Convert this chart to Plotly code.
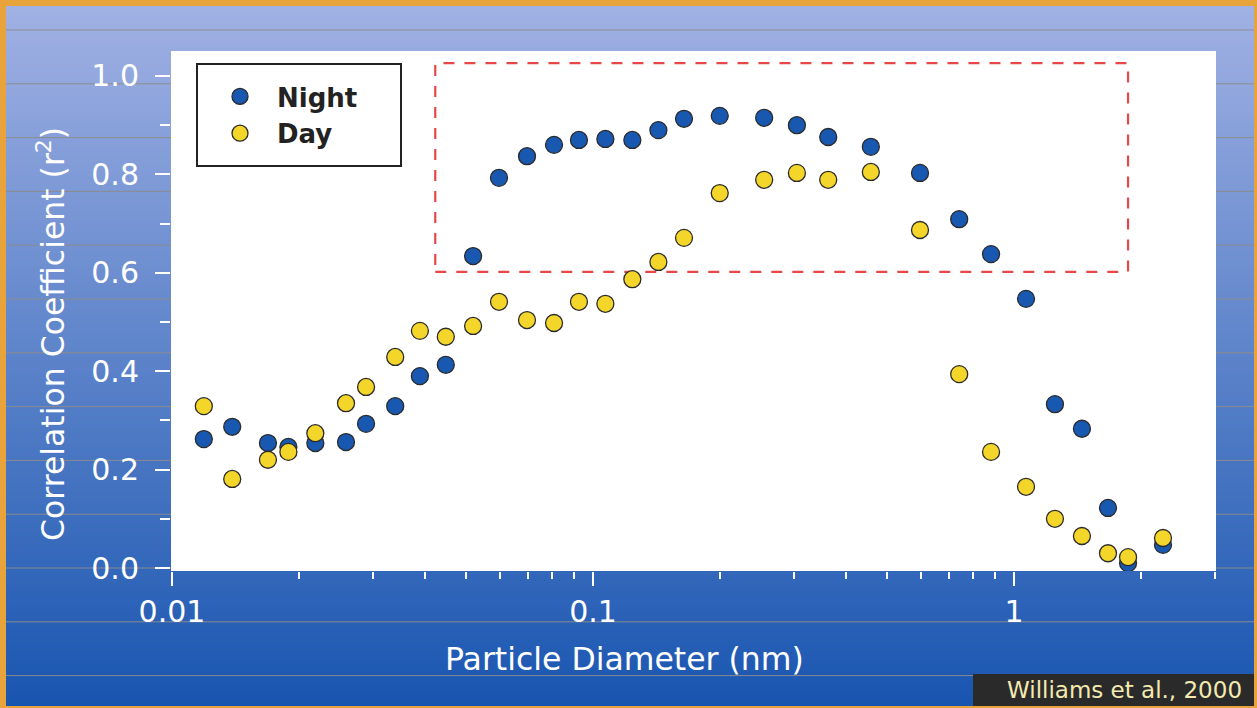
import plotly.graph_objects as go

# ---------------- data ----------------
diameter_nm = [0.0119, 0.0139, 0.0169, 0.0189, 0.0219, 0.0259, 0.0289, 0.0339, 0.0388, 0.0447,
               0.0519, 0.0598, 0.0697, 0.0808, 0.0926, 0.107, 0.124, 0.143, 0.1645, 0.200,
               0.255, 0.305, 0.362, 0.457, 0.598, 0.741, 0.882, 1.068, 1.251, 1.450,
               1.672, 1.866, 2.259]
night_r2 = [0.262, 0.287, 0.254, 0.246, 0.254, 0.256, 0.293, 0.329, 0.390, 0.413,
            0.634, 0.793, 0.837, 0.860, 0.870, 0.872, 0.870, 0.890, 0.913, 0.919,
            0.915, 0.900, 0.876, 0.856, 0.803, 0.709, 0.638, 0.547, 0.333, 0.283,
            0.122, 0.010, 0.047]
day_r2 = [0.329, 0.181, 0.220, 0.236, 0.274, 0.335, 0.368, 0.429, 0.482, 0.470,
          0.492, 0.541, 0.504, 0.498, 0.541, 0.537, 0.587, 0.622, 0.671, 0.762,
          0.789, 0.803, 0.789, 0.805, 0.687, 0.394, 0.236, 0.165, 0.100, 0.065,
          0.030, 0.022, 0.061]
series_names = ["Night", "Day"]
x_tick_vals = [0.01, 0.1, 1]
x_tick_text = ["0.01", "0.1", "1"]
x_minor_vals = [0.02, 0.03, 0.04, 0.05, 0.06, 0.07, 0.08, 0.09,
                0.2, 0.3, 0.4, 0.5, 0.6, 0.7, 0.8, 0.9, 2, 3]
y_tick_vals = [0.0, 0.2, 0.4, 0.6, 0.8, 1.0]
x_title = "Particle Diameter (nm)"
y_title = "Correlation Coefficient (r<sup>2</sup>)"
credit = "Williams et al., 2000"

# ---------------- layout geometry ----------------
W, H = 1257, 708
L, R, T, B = 171, 41, 51, 137
PW, PH = W - L - R, H - T - B


def xp(px):
    return (px - L) / PW


def yp(py):
    return (H - B - py) / PH


FONT = "DejaVu Sans"
shapes = []

# gradient background
top_c = (162, 178, 228)
bot_c = (24, 85, 176)
step = 4
for y0 in range(0, H, step):
    t = (y0 + step / 2) / H
    c = tuple(round(top_c[i] + (bot_c[i] - top_c[i]) * t) for i in range(3))
    shapes.append(dict(type="rect", xref="paper", yref="paper",
                       x0=xp(0), x1=xp(W), y0=yp(y0), y1=yp(min(y0 + step + 0.5, H)),
                       fillcolor="rgb(%d,%d,%d)" % c, line=dict(width=0), layer="below"))

# horizontal rule lines
for k in range(13):
    py = 30 + 53.8 * k
    shapes.append(dict(type="line", xref="paper", yref="paper",
                       x0=xp(6), x1=xp(1254), y0=yp(py), y1=yp(py),
                       line=dict(color="rgba(140,140,140,0.95)", width=1), layer="below"))

# white plot area
shapes.append(dict(type="rect", xref="paper", yref="paper", x0=0, x1=1, y0=0, y1=1,
                   fillcolor="white", line=dict(width=0), layer="below"))

# red dashed highlight box
shapes.append(dict(type="rect", xref="x", yref="y",
                   x0=0.0422, x1=1.866, y0=0.602, y1=1.026,
                   fillcolor="rgba(0,0,0,0)",
                   line=dict(color="#E8474A", width=2.2, dash="11px,10px"), layer="below"))

# credit box
shapes.append(dict(type="rect", xref="paper", yref="paper",
                   x0=xp(973), x1=xp(1254), y0=yp(674), y1=yp(706),
                   fillcolor="#2A2A2A", line=dict(width=0), layer="below"))

# legend frame
shapes.append(dict(type="rect", xref="paper", yref="paper",
                   x0=xp(197), x1=xp(401), y0=yp(64), y1=yp(166),
                   fillcolor="white", line=dict(color="#222222", width=2), layer="above"))

# orange frame
orange = "#E8A43A"
for (a, b, c, d) in [(0, 6, 0, H), (0, W, 0, 6), (1254, W, 0, H), (0, W, 706, H)]:
    shapes.append(dict(type="rect", xref="paper", yref="paper",
                       x0=xp(a), x1=xp(b), y0=yp(c), y1=yp(d),
                       fillcolor=orange, line=dict(width=0), layer="above"))

fig = go.Figure()
fig.add_trace(go.Scatter(x=diameter_nm, y=night_r2, mode="markers", name=series_names[0],
                         marker=dict(size=17, color="#1858B0", line=dict(color="#2B2B2B", width=1.3))))
fig.add_trace(go.Scatter(x=diameter_nm, y=day_r2, mode="markers", name=series_names[1],
                         marker=dict(size=17, color="#F4D62A", line=dict(color="#2B2B2B", width=1.3))))

annotations = [
    dict(text=x_title, xref="paper", yref="paper", x=xp(624), y=yp(659),
         xanchor="center", yanchor="middle", showarrow=False,
         font=dict(family=FONT, size=31.5, color="white")),
    dict(text=y_title, xref="paper", yref="paper", x=xp(51), y=yp(334),
         xanchor="center", yanchor="middle", showarrow=False, textangle=-90,
         font=dict(family=FONT, size=31.5, color="white")),
    dict(text=credit, xref="paper", yref="paper", x=xp(1244), y=yp(690),
         xanchor="right", yanchor="middle", showarrow=False,
         font=dict(family=FONT, size=23, color="#F4EAB0")),
]

fig.update_layout(
    width=W, height=H,
    margin=dict(l=L, r=R, t=T, b=B, autoexpand=False),
    paper_bgcolor="#5A7ACB", plot_bgcolor="white",
    shapes=shapes, annotations=annotations,
    showlegend=True,
    legend=dict(x=xp(203), y=yp(73), xanchor="left", yanchor="top",
                bgcolor="rgba(0,0,0,0)", borderwidth=0,
                font=dict(family=FONT, size=26, color="#222222", weight="bold"),
                itemwidth=64, tracegroupgap=0),
    xaxis=dict(type="log", range=[-2.0024, 0.4798], showgrid=False, zeroline=False,
               showline=False, tickmode="array", tickvals=x_tick_vals, ticktext=x_tick_text,
               ticks="outside", ticklen=14, tickwidth=2, tickcolor="white",
               tickfont=dict(family=FONT, size=30, color="white"),
               minor=dict(tickmode="array", tickvals=x_minor_vals, ticks="outside",
                          ticklen=7, tickwidth=2, tickcolor="white", showgrid=False)),
    yaxis=dict(range=[-0.0061, 1.0508], showgrid=False, zeroline=False, showline=False,
               tickmode="array", tickvals=y_tick_vals, tickformat=".1f",
               ticks="outside", ticklen=15, tickwidth=2, tickcolor="white",
               ticklabelstandoff=10,
               tickfont=dict(family=FONT, size=30, color="white"),
               minor=dict(dtick=0.1, ticks="outside", ticklen=10, tickwidth=2,
                          tickcolor="white", showgrid=False)),
)

fig.write_html("out.html", config={"displayModeBar": False},
               post_script="document.body.style.margin='0';")
